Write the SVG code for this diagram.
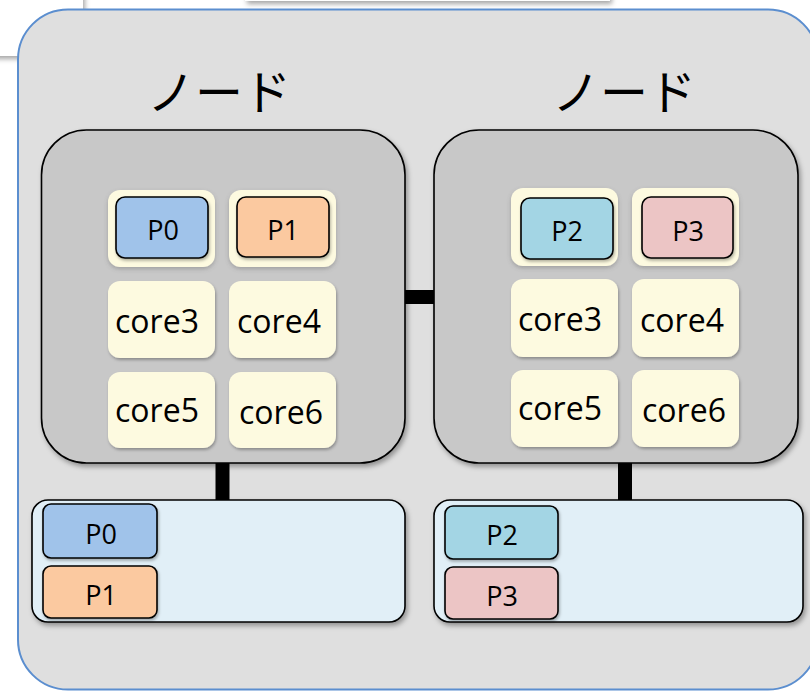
<svg xmlns="http://www.w3.org/2000/svg" width="810" height="691" viewBox="0 0 810 691">
<defs>
<filter id="sh" x="-10%" y="-10%" width="130%" height="130%">
<feDropShadow dx="2" dy="3" stdDeviation="2.5" flood-color="#000" flood-opacity="0.35"/>
</filter>
<filter id="shs" x="-10%" y="-10%" width="130%" height="130%">
<feDropShadow dx="1" dy="2" stdDeviation="1.5" flood-color="#000" flood-opacity="0.3"/>
</filter>
<filter id="glow" x="-20%" y="-20%" width="140%" height="140%">
<feDropShadow dx="0" dy="2" stdDeviation="2" flood-color="#555" flood-opacity="0.35"/>
</filter>
</defs>
<style>
.node{fill:#c8c8c8;stroke:#000;stroke-width:1.6}
.tile{fill:#fdfae0}
.pbox{stroke:#000;stroke-width:1.6}
.mem{fill:#e1eff7;stroke:#000;stroke-width:1.6}
.p0{fill:#a0c3ea}.p1{fill:#fbc9a0}.p2{fill:#a3d5e4}.p3{fill:#ecc5c5}
.lbl{font-family:"Open Sans","Liberation Sans",sans-serif;fill:#000;text-anchor:middle}
.pl{font-size:27px}
.cl{font-size:32px}
.jp{font-family:"Noto Sans CJK JP",sans-serif;font-size:48px;fill:#000;text-anchor:middle}
.bar{stroke:#000;stroke-width:14;fill:none}
</style>
<rect x="0" y="0" width="810" height="691" fill="#fff"/>
<rect x="-30" y="-30" width="113" height="86" fill="#fff" filter="url(#sh)"/>
<rect x="245" y="-40" width="365" height="41" fill="#fff" filter="url(#sh)"/>
<rect id="frame" x="18" y="9.5" width="800" height="680" rx="50" fill="#dfdfdf" stroke="#5b8ecf" stroke-width="2"/>
<text class="jp" x="219" y="110">ノード</text>
<text class="jp" x="624" y="110">ノード</text>
<g id="connectors">
<line class="bar" x1="405" y1="297" x2="434" y2="297"/>
<line class="bar" x1="222.5" y1="463" x2="222.5" y2="500"/>
<line class="bar" x1="625" y1="463" x2="625" y2="500"/>
</g>
<g id="node1">
<rect class="node" x="41.5" y="130" width="363.5" height="333" rx="45" filter="url(#sh)"/>
<rect class="tile" x="108" y="190" width="107" height="77" rx="12" filter="url(#glow)"/>
<rect class="tile" x="229" y="190" width="107" height="77" rx="12" filter="url(#glow)"/>
<rect class="tile" x="108" y="281" width="107" height="77" rx="12" filter="url(#shs)"/>
<rect class="tile" x="229" y="281" width="107" height="77" rx="12" filter="url(#shs)"/>
<rect class="tile" x="108" y="372" width="107" height="76" rx="12" filter="url(#shs)"/>
<rect class="tile" x="229" y="372" width="107" height="76" rx="12" filter="url(#shs)"/>
<rect class="pbox p0" x="116" y="197" width="92" height="61" rx="9" filter="url(#shs)"/>
<rect class="pbox p1" x="237" y="197" width="92" height="60" rx="9" filter="url(#shs)"/>
<text class="lbl pl" x="163" y="240">P0</text>
<text class="lbl pl" x="283" y="240">P1</text>
<text class="lbl cl" x="157" y="333">core3</text>
<text class="lbl cl" x="279" y="333">core4</text>
<text class="lbl cl" x="157" y="422">core5</text>
<text class="lbl cl" x="281" y="424">core6</text>
</g>
<g id="node2">
<rect class="node" x="434" y="130" width="364" height="333" rx="45" filter="url(#sh)"/>
<rect class="tile" x="511" y="188" width="107" height="78" rx="12" filter="url(#glow)"/>
<rect class="tile" x="632" y="188" width="107" height="78" rx="12" filter="url(#glow)"/>
<rect class="tile" x="511" y="279" width="107" height="78" rx="12" filter="url(#shs)"/>
<rect class="tile" x="632" y="279" width="107" height="78" rx="12" filter="url(#shs)"/>
<rect class="tile" x="511" y="370" width="107" height="77" rx="12" filter="url(#shs)"/>
<rect class="tile" x="632" y="370" width="107" height="77" rx="12" filter="url(#shs)"/>
<rect class="pbox p2" x="521" y="198" width="92" height="61" rx="9" filter="url(#shs)"/>
<rect class="pbox p3" x="642" y="197" width="91" height="61" rx="9" filter="url(#shs)"/>
<text class="lbl pl" x="567" y="241">P2</text>
<text class="lbl pl" x="688" y="241">P3</text>
<text class="lbl cl" x="560" y="331">core3</text>
<text class="lbl cl" x="682" y="332">core4</text>
<text class="lbl cl" x="560" y="420">core5</text>
<text class="lbl cl" x="684" y="422">core6</text>
</g>
<g id="memory1">
<rect class="mem" x="32" y="500" width="373" height="122" rx="16" filter="url(#sh)"/>
<rect class="pbox p0" x="43" y="504" width="114" height="54" rx="8" filter="url(#shs)"/>
<rect class="pbox p1" x="43" y="566" width="114" height="52" rx="8" filter="url(#shs)"/>
<text class="lbl pl" x="101" y="544">P0</text>
<text class="lbl pl" x="101" y="605">P1</text>
</g>
<g id="memory2">
<rect class="mem" x="434" y="500" width="369" height="122" rx="16" filter="url(#sh)"/>
<rect class="pbox p2" x="445" y="506" width="113" height="53" rx="8" filter="url(#shs)"/>
<rect class="pbox p3" x="445" y="567" width="113" height="52" rx="8" filter="url(#shs)"/>
<text class="lbl pl" x="502" y="545">P2</text>
<text class="lbl pl" x="502" y="606">P3</text>
</g>
</svg>
